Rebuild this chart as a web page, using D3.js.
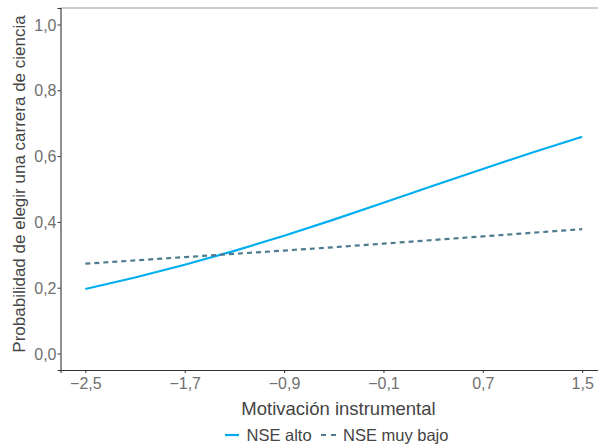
<!DOCTYPE html>
<html><head><meta charset="utf-8">
<script src="https://cdn.jsdelivr.net/npm/d3@7"></script>
<style>body{margin:0;background:#fff;}svg{display:block;font-family:"Liberation Sans",Arial,sans-serif;}</style>
</head><body><svg id="c" width="598" height="446"></svg>
<script>
const xValues = [-2.5,-2.1,-1.7,-1.3,-0.9,-0.5,-0.1,0.3,0.7,1.1,1.5];
const nseAlto = [0.196,0.231,0.270,0.312,0.358,0.407,0.458,0.510,0.561,0.611,0.659];
const nseMuyBajo = [0.273,0.283,0.293,0.303,0.313,0.323,0.334,0.345,0.356,0.367,0.378];
const xTicks = [-2.5,-1.7,-0.9,-0.1,0.7,1.5];
const yTicks = [0,0.2,0.4,0.6,0.8,1.0];
const seriesNames = ["NSE alto","NSE muy bajo"];

const svg = d3.select("#c");
const L = 60.5, R = 607, T = 8, B = 370;
const x = d3.scaleLinear().domain([-2.7,1.7]).range([L,R]);
const y = d3.scaleLinear().domain([-0.05,1.05]).range([B,T]);
const fmt = v => d3.format(".1f")(v).replace(".",",").replace("-","\u2212");

// top border
svg.append("line").attr("x1",L).attr("x2",598).attr("y1",T).attr("y2",T)
  .attr("stroke","#9a9a9a").attr("stroke-width",1.2);

const gx = svg.append("g").attr("transform",`translate(0,${B})`)
  .call(d3.axisBottom(x).tickValues(xTicks).tickSize(3).tickFormat(fmt));
const gy = svg.append("g").attr("transform",`translate(${L},0)`)
  .call(d3.axisLeft(y).tickValues(yTicks).tickSize(3).tickFormat(fmt));
[gx,gy].forEach(g=>{
  g.attr("font-size",null);
  g.select(".domain").attr("stroke","#333").attr("stroke-width",1.1);
  g.selectAll(".tick line").attr("stroke","#333");
  g.selectAll(".tick text").attr("fill","#707070")
   .style("font-size","16px").style("font-family","'Liberation Sans',Arial,sans-serif");
});
gx.selectAll(".tick text").attr("y",5).attr("dy","0.9em");
gy.selectAll(".tick text").attr("x",-4).attr("dy","0.35em");

const line = d3.line().x((d,i)=>x(xValues[i])).y(d=>y(d));
svg.append("path").datum(nseAlto).attr("d",line).attr("fill","none")
  .attr("stroke","#00AEEF").attr("stroke-width",2.2);
svg.append("path").datum(nseMuyBajo).attr("d",line).attr("fill","none")
  .attr("stroke","#4E7B8E").attr("stroke-width",2.2).attr("stroke-dasharray","5,4");

svg.append("text").attr("x",338.5).attr("y",415).attr("text-anchor","middle")
  .attr("fill","#444").style("font-size","18.5px").text("Motivación instrumental");
svg.append("text").attr("transform",`translate(25,184) rotate(-90)`)
  .attr("text-anchor","middle").attr("fill","#444").style("font-size","17px")
  .text("Probabilidad de elegir una carrera de ciencia");

// legend
const leg = svg.append("g");
leg.append("line").attr("x1",225).attr("x2",239).attr("y1",435).attr("y2",435)
  .attr("stroke","#00AEEF").attr("stroke-width",2.2);
leg.append("text").attr("x",246.5).attr("y",441).attr("fill","#444").style("font-size","16.5px").text(seriesNames[0]);
leg.append("line").attr("x1",321).attr("x2",336).attr("y1",435).attr("y2",435)
  .attr("stroke","#4E7B8E").attr("stroke-width",2.2).attr("stroke-dasharray","5,5");
leg.append("text").attr("x",343).attr("y",441).attr("fill","#444").style("font-size","16.5px").text(seriesNames[1]);
</script></body></html>
